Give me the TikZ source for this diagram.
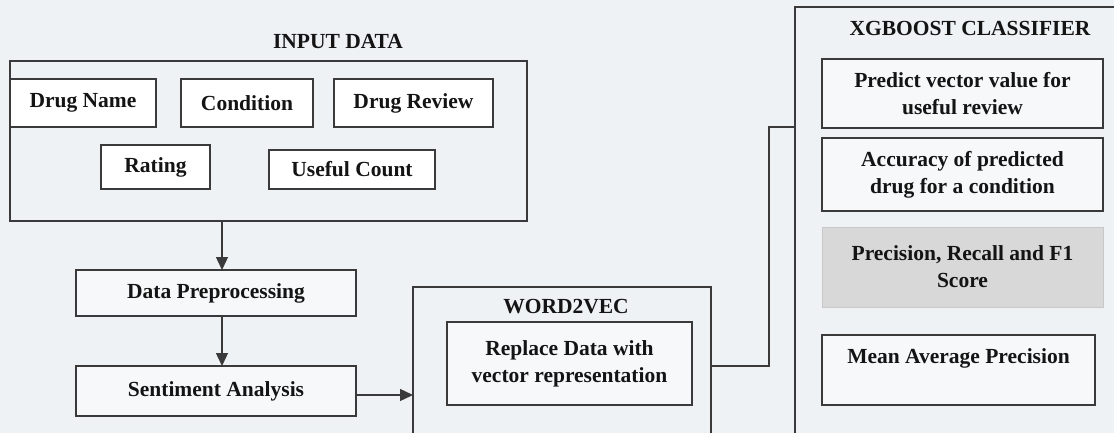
\documentclass[tikz,border=0pt]{standalone}
\usepackage{fontspec}
\setmainfont{Liberation Serif}
\usetikzlibrary{arrows.meta}
\definecolor{bg}{RGB}{239,242,244}
\definecolor{ln}{RGB}{58,58,58}
\definecolor{gf}{RGB}{216,216,216}
\definecolor{gb}{RGB}{200,200,200}
\definecolor{lf}{RGB}{246,248,249}
\begin{document}
\begin{tikzpicture}[x=1pt,y=-1pt,
  txt/.style={font=\fontsize{21.5}{27}\selectfont\bfseries, text=black!92, align=center},
  frame/.style={draw=ln, line width=1.4pt, inner sep=0pt, outer sep=0pt},
  item/.style={frame, fill=white, txt},
  stage/.style={frame, fill=lf, txt},
  group/.style={frame, fill=bg},
  shaded/.style={draw=gb, line width=1pt, fill=gf, inner sep=0pt, outer sep=0pt, txt},
  title/.style={txt, inner sep=0pt},
  arr/.style={draw=ln, line width=1.4pt, -{Triangle[length=13pt,width=12pt]}},
  conn/.style={draw=ln, line width=1.4pt}
]
\useasboundingbox (0,0) rectangle (1114,433);
\clip (0,0) rectangle (1114,433);
\fill[bg] (0,0) rectangle (1114,433);

% input group
\node[group, minimum width=517pt, minimum height=160pt] (input) at (268.5,141) {};
\node[title] (inputt) at (338,42) {INPUT DATA};
\node[item, minimum width=146pt, minimum height=48pt] (dn) at (83,103) {Drug Name};
\node[item, minimum width=132pt, minimum height=48pt] (cond) at (247,103) {Condition};
\node[item, minimum width=159pt, minimum height=48pt] (drev) at (413.5,103) {Drug Review};
\node[item, minimum width=109pt, minimum height=44pt] (rating) at (155.5,167) {Rating};
\node[item, minimum width=166pt, minimum height=39pt] (useful) at (352,169.5) {Useful Count};

% stages
\node[stage, minimum width=280pt, minimum height=46pt] (dp) at (216,293) {Data Preprocessing};
\node[stage, minimum width=280pt, minimum height=50pt] (sa) at (216,391) {Sentiment Analysis};

% word2vec
\node[group, minimum width=298pt, minimum height=158pt] (w2v) at (562,366) {};
\node[title] (w2vt) at (566,307) {WORD2VEC};
\node[stage, minimum width=245pt, minimum height=83pt] (rep) at (569.5,363.5) {Replace Data with\\vector representation};

% xgboost
\node[group, minimum width=335pt, minimum height=443pt] (xgb) at (962.5,228.5) {};
\node[title] (xgbt) at (970,28) {XGBOOST CLASSIFIER};
\node[stage, minimum width=281pt, minimum height=69pt] (p1) at (962.5,93.5) {Predict vector value for\\useful review};
\node[stage, minimum width=281pt, minimum height=73pt] (p2) at (962.5,174.5) {Accuracy of predicted\\drug for a condition};
\node[shaded, minimum width=281pt, minimum height=80pt] (p3) at (962.5,267) {Precision, Recall and F1\\Score};
\node[stage, minimum width=273pt, minimum height=70pt] (p4) at (958.5,370) {Mean Average Precision\\\mbox{}};

% connectors
\coordinate (ax) at (222,0);
\coordinate (vx) at (769,0);
\coordinate (hy) at (0,127);
\draw[arr] (input.south -| ax) -- (dp.north -| ax);
\draw[arr] (dp.south -| ax) -- (sa.north -| ax);
\draw[arr] (sa.east |- 0,395) -- (w2v.west |- 0,395);
\draw[conn] (w2v.east) -- (w2v.east -| vx) -- (vx |- hy) -- (xgb.west |- hy);
\end{tikzpicture}
\end{document}
